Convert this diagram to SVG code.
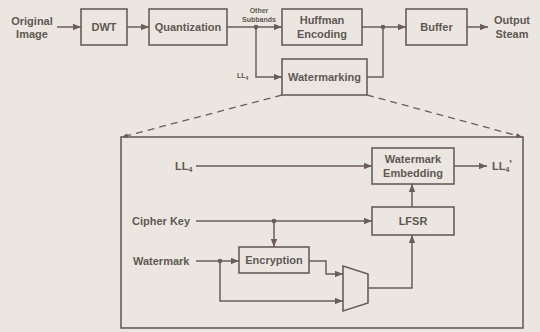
<svg xmlns="http://www.w3.org/2000/svg" width="540" height="332" viewBox="0 0 540 332">
  <defs>
    <style>
      .bg { fill: #ebe7e0; }
      .box { fill: none; stroke: #6b5d57; stroke-width: 1.6; }
      .ln { fill: none; stroke: #6b5d57; stroke-width: 1.5; }
      .arr { marker-end: url(#ah); }
      .dash { fill: none; stroke: #6b5d57; stroke-width: 1.3; stroke-dasharray: 7 5; }
      .dot { fill: #6b5d57; }
      text { font-family: "Liberation Sans", Arial, sans-serif; font-weight: bold; fill: #5e5854; }
      .lbl { font-size: 11px; }
      .mid { text-anchor: middle; }
      .sm { font-size: 7px; }
    </style>
    <marker id="ah" viewBox="0 0 10 8" refX="10" refY="4" markerWidth="8" markerHeight="6.4" markerUnits="userSpaceOnUse" orient="auto">
      <path d="M0,0 L10,4 L0,8 Z" fill="#6b5d57"/>
    </marker>
    <marker id="dh" viewBox="0 0 10 8" refX="10" refY="4" markerWidth="6" markerHeight="5" markerUnits="userSpaceOnUse" orient="auto">
      <path d="M0,0 L10,4 L0,8 Z" fill="#6b5d57"/>
    </marker>
  </defs>

  <rect class="bg" x="0" y="0" width="540" height="332"/>

  <!-- connectors -->
  <g id="connectors">
    <!-- encoder chain -->
    <line class="ln arr" x1="57" y1="27" x2="81" y2="27"/>
    <line class="ln arr" x1="127" y1="27" x2="149" y2="27"/>
    <line class="ln arr" x1="227" y1="27" x2="282" y2="27"/>
    <polyline class="ln arr" points="256,27 256,77 282,77"/>
    <circle class="dot" cx="256" cy="27" r="2.3"/>
    <line class="ln arr" x1="362" y1="27" x2="406" y2="27"/>
    <polyline class="ln" points="367,77 383,77 383,27"/>
    <circle class="dot" cx="383" cy="27" r="2.3"/>
    <line class="ln arr" x1="467" y1="27" x2="488" y2="27"/>

    <!-- detail callout -->
    <line class="dash" x1="282" y1="95" x2="122" y2="137" marker-end="url(#dh)"/>
    <line class="dash" x1="367" y1="95" x2="522" y2="137" marker-end="url(#dh)"/>

    <!-- watermarking internals -->
    <line class="ln arr" x1="196" y1="166" x2="372" y2="166"/>
    <line class="ln arr" x1="454" y1="166" x2="487" y2="166"/>
    <line class="ln arr" x1="412" y1="207" x2="412" y2="184"/>
    <line class="ln arr" x1="196" y1="221" x2="372" y2="221"/>
    <circle class="dot" cx="274" cy="221" r="2.3"/>
    <line class="ln arr" x1="274" y1="221" x2="274" y2="247"/>
    <line class="ln arr" x1="196" y1="261" x2="239" y2="261"/>
    <circle class="dot" cx="220" cy="261" r="2.3"/>
    <polyline class="ln arr" points="220,261 220,301 343,301"/>
    <polyline class="ln arr" points="309,261 326,261 326,274 343,274"/>
    <polyline class="ln arr" points="368,288 412,288 412,235"/>
  </g>

  <!-- encoder chain nodes -->
  <g id="input-label">
    <text class="lbl mid" x="32" y="25">Original</text>
    <text class="lbl mid" x="32" y="38">Image</text>
  </g>
  <g id="dwt">
    <rect class="box" x="81" y="9" width="46" height="36"/>
    <text class="lbl mid" x="104" y="31">DWT</text>
  </g>
  <g id="quantization">
    <rect class="box" x="149" y="9" width="78" height="36"/>
    <text class="lbl mid" x="188" y="31">Quantization</text>
  </g>
  <g id="subband-labels">
    <text class="sm mid" x="259" y="13">Other</text>
    <text class="sm mid" x="259" y="22">Subbands</text>
    <text class="sm" x="237" y="78">LL<tspan font-size="5" dy="1.5">4</tspan></text>
  </g>
  <g id="huffman">
    <rect class="box" x="282" y="9" width="80" height="36"/>
    <text class="lbl mid" x="322" y="24">Huffman</text>
    <text class="lbl mid" x="322" y="37.5">Encoding</text>
  </g>
  <g id="watermarking">
    <rect class="box" x="282" y="59" width="85" height="36"/>
    <text class="lbl mid" x="324.5" y="81">Watermarking</text>
  </g>
  <g id="buffer">
    <rect class="box" x="406" y="9" width="61" height="36"/>
    <text class="lbl mid" x="436.5" y="31">Buffer</text>
  </g>
  <g id="output-label">
    <text class="lbl mid" x="512" y="24">Output</text>
    <text class="lbl mid" x="512" y="38">Steam</text>
  </g>

  <!-- watermarking detail -->
  <g id="detail-frame">
    <rect class="box" x="121" y="137" width="402" height="191"/>
  </g>
  <g id="ll4-in">
    <text class="lbl" x="175" y="170">LL<tspan font-size="7" dy="2">4</tspan></text>
  </g>
  <g id="cipher-key">
    <text class="lbl" x="132" y="225">Cipher Key</text>
  </g>
  <g id="watermark-in">
    <text class="lbl" x="133" y="265">Watermark</text>
  </g>
  <g id="watermark-embedding">
    <rect class="box" x="372" y="148" width="82" height="36"/>
    <text class="lbl mid" x="413" y="163">Watermark</text>
    <text class="lbl mid" x="413" y="177">Embedding</text>
  </g>
  <g id="ll4-out">
    <text class="lbl" x="492" y="170">LL<tspan font-size="7" dy="2">4</tspan><tspan dy="-4">'</tspan></text>
  </g>
  <g id="lfsr">
    <rect class="box" x="372" y="207" width="82" height="28"/>
    <text class="lbl mid" x="413" y="225">LFSR</text>
  </g>
  <g id="encryption">
    <rect class="box" x="239" y="247" width="70" height="26"/>
    <text class="lbl mid" x="274" y="264">Encryption</text>
  </g>
  <g id="mux">
    <polygon class="box" points="343,266 368,274 368,303 343,311"/>
  </g>
</svg>
